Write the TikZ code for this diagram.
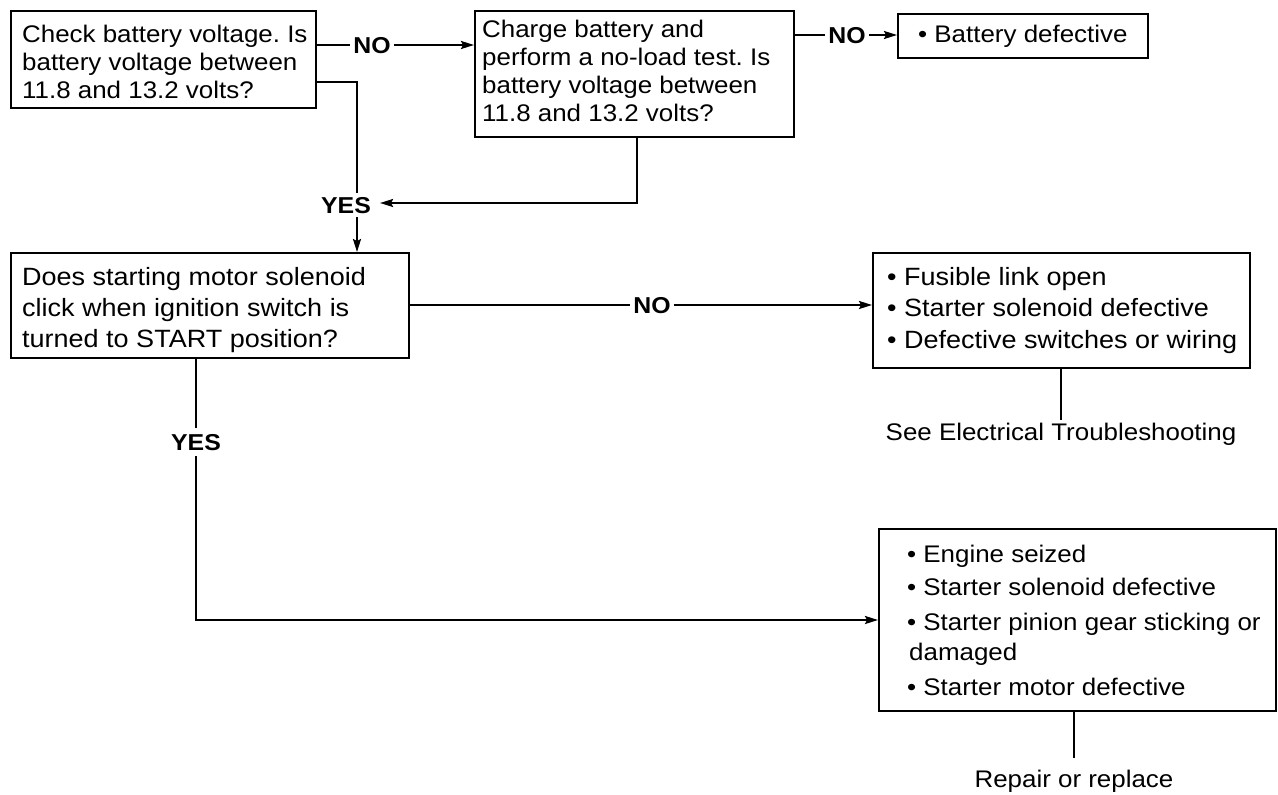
\documentclass[tikz,border=0pt]{standalone}
\usepackage{fontspec}
\setmainfont{Liberation Sans}[FakeStretch=1.08]
\usetikzlibrary{arrows.meta,calc}
\newcommand\fsz[2]{\fontsize{#1}{#2}\selectfont}
\frenchspacing
\begin{document}
\begin{tikzpicture}[x=1pt,y=-1pt,
  box/.style={draw, line width=2pt, anchor=north west, inner sep=0pt},
  txt/.style={anchor=north west, inner sep=0pt, align=left},
  conn/.style={line width=2pt},
  arr/.style={conn,-{Stealth[length=13pt,width=8pt,inset=2pt]}},
  lbl/.style={font=\bfseries\fsz{23}{26}, inner xsep=3pt, inner ysep=4pt, text height=16.5pt, text depth=0pt},
  note/.style={font=\fsz{24}{28}, anchor=base, inner sep=2pt}]
\useasboundingbox (0,0) rectangle (1278,795);

% boxes
\node[box, minimum width=305, minimum height=97]  (b1) at (10,10) {};
\node[box, minimum width=319, minimum height=126] (b2) at (474,10) {};
\node[box, minimum width=250, minimum height=44]  (b3) at (897,13) {};
\node[box, minimum width=398, minimum height=105] (b4) at (10,252) {};
\node[box, minimum width=377, minimum height=115] (b5) at (872,252) {};
\node[box, minimum width=397, minimum height=182] (b6) at (878,528) {};

% box texts
\node[txt, font=\fsz{24}{28}] (t1) at ($(b1.north west)+(12,14.5)$)
  {Check battery voltage. Is\\battery voltage between\\11.8 and 13.2 volts?};
\node[txt, font=\fsz{24}{28.3}] (t2) at ($(b2.north west)+(8,9.5)$)
  {Charge battery and\\perform a no-load test. Is\\battery voltage between\\11.8 and 13.2 volts?};
\node[txt, font=\fsz{24}{28}, anchor=base west] (t3) at ($(b3.north west)+(21,29)$)
  {• Battery defective};
\node[txt, font=\fsz{25}{31}] (t4) at ($(b4.north west)+(12,14.8)$)
  {Does starting motor solenoid\\click when ignition switch is\\turned to START position?};
\node[txt, font=\fsz{25}{31.5}] (t5) at ($(b5.north west)+(15,14.8)$)
  {• Fusible link open\\• Starter solenoid defective\\• Defective switches or wiring};
\node[txt, font=\fsz{24}{33}] (t6) at ($(b6.north west)+(29,16.5)$)
  {• Engine seized\\• Starter solenoid defective\\[2pt]• Starter pinion gear sticking or\\[-3pt]\hspace*{2pt}damaged\\[2pt]• Starter motor defective};

% labels
\node[lbl] (no1)  at (372,45)  {NO};
\node[lbl] (no2)  at (847,35)  {NO};
\node[lbl] (yes1) at (346,205) {YES};
\node[lbl] (no3)  at (652,305) {NO};
\node[lbl, inner ysep=6pt] (yes2) at (196,442) {YES};
\node[note] (see) at (1061,440) {See Electrical Troubleshooting};
\node[note] (rep) at (1074,787) {Repair or replace};

% connectors
\coordinate (k1) at (357,82);
\coordinate (k2) at (637,203);
\coordinate (k3) at (196,620);

\draw[conn] (b1.east |- no1) -- (no1.west);
\draw[arr]  (no1.east) -- (b2.west |- no1);
\draw[conn] (b1.east |- k1) -- (k1) -- (k1 |- yes1.north);
\draw[arr]  (k1 |- yes1.south) -- (k1 |- b4.north);
\draw[arr, shorten >=6pt] (k2 |- b2.south) -- (k2) -- (yes1.east |- k2);
\draw[conn] (b2.east |- no2) -- (no2.west);
\draw[arr]  (no2.east) -- (b3.west |- no2);
\draw[conn] (b4.east |- no3) -- (no3.west);
\draw[arr]  (no3.east) -- (b5.west |- no3);
\draw[conn] (b4.south -| yes2) -- (yes2.north);
\draw[arr]  (yes2.south) -- (k3) -- (b6.west |- k3);
\draw[conn] (b5.south -| see) -- (see.north);
\draw[conn, shorten >=9pt] (b6.south -| rep) -- (rep.north);
\end{tikzpicture}
\end{document}
